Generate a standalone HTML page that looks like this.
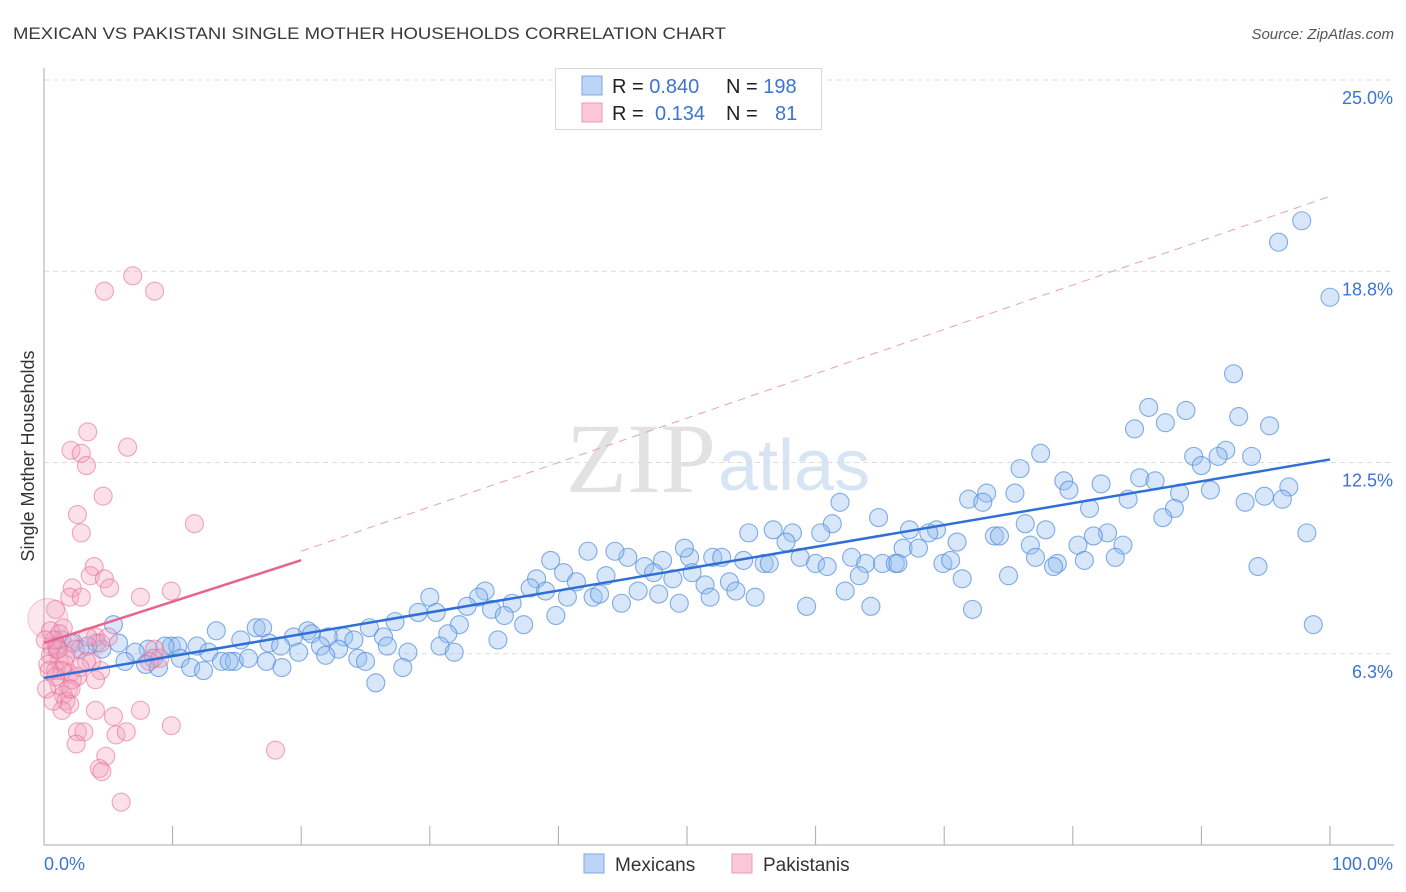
<!DOCTYPE html>
<html><head><meta charset="utf-8"><style>
body{margin:0;background:#fff;font-family:"Liberation Sans",sans-serif;}
#wrap{position:relative;width:1406px;height:892px;overflow:hidden;}
svg text{font-family:"Liberation Sans",sans-serif;}
</style></head><body>
<div id="wrap">
<svg id="svg" width="1406" height="892" xmlns="http://www.w3.org/2000/svg">
<text x="13" y="39" font-size="17" fill="#3a3a3a" textLength="713" lengthAdjust="spacingAndGlyphs">MEXICAN VS PAKISTANI SINGLE MOTHER HOUSEHOLDS CORRELATION CHART</text>
<text x="1394" y="39" font-size="15" fill="#555" font-style="italic" text-anchor="end">Source: ZipAtlas.com</text>
<text x="716" y="492" font-size="100" fill="#e2e2e2" text-anchor="end" style="font-family:'Liberation Serif',serif">ZIP</text>
<text x="718" y="490" font-size="72" fill="#d6e4f4">atlas</text>
<g id="grid"></g>
<g id="axes"></g>
<g id="pts"></g>
<g id="lines"></g>
<text x="0" y="0" font-size="18" fill="#333" text-anchor="middle" transform="translate(34,456) rotate(-90)">Single Mother Households</text>
<g>
<rect x="555.5" y="68.5" width="266" height="61" fill="#fff" stroke="#d8d8d8"/>
<rect x="582" y="76" width="20" height="19" fill="#bcd4f5" stroke="#7eaae6"/>
<rect x="582" y="103" width="20" height="19" fill="#f9c7d6" stroke="#ee9ab4"/>
<text x="612" y="93" font-size="20" fill="#222">R = <tspan fill="#3b74d1">0.840</tspan></text>
<text x="726" y="93" font-size="20" fill="#222">N = <tspan fill="#3b74d1">198</tspan></text>
<text x="612" y="120" font-size="20" fill="#222">R =  <tspan fill="#3b74d1" x="655">0.134</tspan></text>
<text x="726" y="120" font-size="20" fill="#222">N = <tspan fill="#3b74d1" x="775">81</tspan></text>
</g>
<g>
<rect x="584" y="854" width="20" height="19" fill="#bcd4f5" stroke="#7eaae6"/>
<text x="615" y="871" font-size="19" fill="#333">Mexicans</text>
<rect x="732" y="854" width="20" height="19" fill="#f9c7d6" stroke="#ee9ab4"/>
<text x="763" y="871" font-size="19" fill="#333">Pakistanis</text>
</g>
</svg>
</div>
<script>
const yTicks=[6.25,12.5,18.75,25];
const yTickLabels=["6.3%","12.5%","18.8%","25.0%"];
const xTickLabels=["0.0%","100.0%"];
const mexX=[97.8,96.0,100,92.5,85.9,88.8,92.9,84.8,87.2,95.3,77.5,89.4,91.9,93.9,75.9,90.0,91.3,79.3,85.2,86.4,82.2,79.7,90.7,88.3,71.9,73.3,75.5,73.0,84.3,94.9,96.8,93.4,96.3,61.9,81.3,87.9,87.0,64.9,61.3,76.3,77.9,82.7,81.6,69.4,67.3,68.8,56.7,58.2,54.8,57.7,60.4,73.9,74.3,98.2,76.7,80.4,83.9,71.0,66.8,68.0,52.0,52.7,54.4,50.2,49.8,48.1,45.4,44.4,42.3,39.4,58.8,60.0,62.8,63.9,65.2,66.2,66.4,69.9,70.5,56.0,56.4,60.9,77.1,80.9,83.3,78.8,78.5,94.4,46.7,47.4,50.4,48.9,43.7,38.3,40.4,41.4,71.4,75.0,63.4,53.3,51.4,37.8,34.3,39.0,46.2,47.8,53.8,51.8,55.3,62.3,42.7,43.2,44.9,49.4,40.7,33.8,30.0,36.4,32.9,34.8,39.8,59.3,64.3,72.2,29.1,30.5,35.8,37.3,27.3,32.3,25.3,98.7,5.4,13.4,16.5,17.0,20.5,31.4,26.4,23.3,24.1,35.3,15.3,19.4,20.8,22.1,1.4,2.3,4.1,5.8,9.9,10.4,8.1,9.4,11.9,17.5,18.4,21.5,22.9,26.7,30.8,31.9,28.3,4.5,7.1,8.5,10.6,12.8,19.8,21.9,24.4,25.0,6.3,7.9,8.9,11.4,12.4,13.8,14.8,14.4,15.9,17.3,18.5,27.9,25.8,2.8,3.4,1.0];
const mexY=[20.4,19.7,17.9,15.4,14.3,14.2,14.0,13.6,13.8,13.7,12.8,12.7,12.9,12.7,12.3,12.4,12.7,11.9,12.0,11.9,11.8,11.6,11.6,11.5,11.3,11.5,11.5,11.2,11.3,11.4,11.7,11.2,11.3,11.2,11.0,11.0,10.7,10.7,10.5,10.5,10.3,10.2,10.1,10.3,10.3,10.2,10.3,10.2,10.2,9.9,10.2,10.1,10.1,10.2,9.8,9.8,9.8,9.9,9.7,9.7,9.4,9.4,9.3,9.4,9.7,9.3,9.4,9.6,9.6,9.3,9.4,9.2,9.4,9.2,9.2,9.2,9.2,9.2,9.3,9.2,9.2,9.1,9.4,9.3,9.4,9.2,9.1,9.1,9.1,8.9,8.9,8.7,8.8,8.7,8.9,8.6,8.7,8.8,8.8,8.6,8.5,8.4,8.3,8.3,8.3,8.2,8.3,8.1,8.1,8.3,8.1,8.2,7.9,7.9,8.1,8.1,8.1,7.9,7.8,7.7,7.5,7.8,7.8,7.7,7.6,7.6,7.5,7.2,7.3,7.2,7.1,7.2,7.2,7.0,7.1,7.1,7.0,6.9,6.8,6.8,6.7,6.7,6.7,6.8,6.9,6.8,6.7,6.6,6.6,6.6,6.5,6.5,6.4,6.5,6.5,6.6,6.5,6.5,6.4,6.5,6.5,6.3,6.3,6.4,6.3,6.1,6.1,6.3,6.3,6.2,6.1,6.0,6.0,5.9,5.8,5.8,5.7,6.0,6.0,6.0,6.1,6.0,5.8,5.8,5.3,6.4,6.5,6.5];
const pakX=[6.9,4.7,8.6,3.4,6.5,2.1,2.9,3.3,4.6,2.6,11.7,2.9,3.9,3.6,4.7,5.1,2.2,9.9,2.0,2.9,7.5,0.9,0.3,0.5,1.5,4.0,8.6,4.4,4.0,4.0,5.4,7.5,9.9,18.0,6.0,1.2,2.0,0.6,1.0,0.5,1.2,0.3,0.9,1.6,2.4,3.7,3.3,2.0,2.6,1.2,1.9,1.5,1.7,2.0,1.4,2.6,3.1,2.5,5.6,6.4,4.8,4.3,4.5,9.0,8.2,1.1,0.8,1.7,2.8,1.4,2.2,0.9,4.4,5.0,0.1,0.4,0.2,0.7,2.1,3.4];
const pakY=[18.6,18.1,18.1,13.5,13.0,12.9,12.8,12.4,11.4,10.8,10.5,10.2,9.1,8.8,8.7,8.4,8.4,8.3,8.1,8.1,8.1,7.7,7.4,7.0,7.1,6.8,6.4,5.7,5.4,4.4,4.2,4.4,3.9,3.1,1.4,6.9,6.6,6.5,6.4,6.2,6.0,5.9,5.7,5.9,6.4,6.0,6.0,5.6,5.5,5.2,5.1,4.9,4.7,4.6,4.4,3.7,3.7,3.3,3.6,3.7,2.9,2.5,2.4,6.1,6.0,6.4,6.7,6.2,5.8,5.7,5.4,5.5,6.6,6.8,6.7,5.7,5.1,4.7,5.1,6.8];
const mexTrend=[5.46,12.6];
const pakTrend=[6.7,21.2];

const X0=44,X1=1330,Y0=845,Y25=80;
const sx=v=>X0+v/100*(X1-X0);
const sy=v=>Y0-v/25*(Y0-Y25);
const NS="http://www.w3.org/2000/svg";
function mk(tag,attrs,parent){const e=document.createElementNS(NS,tag);for(const k in attrs)e.setAttribute(k,attrs[k]);parent.appendChild(e);return e;}
const grid=document.getElementById('grid'),axes=document.getElementById('axes'),pts=document.getElementById('pts'),lines=document.getElementById('lines');
yTicks.forEach((t,i)=>{
 const g=mk('line',{x1:X0,x2:1394,y1:sy(t),y2:sy(t),stroke:'#dcdcdc','stroke-dasharray':'5,4'},grid);
 
 
 const tx=mk('text',{x:1393,y:sy(t)+24,'font-size':18,fill:'#3b74d1','text-anchor':'end'},axes);
 tx.textContent=yTickLabels[i];
 
 
});
const ya=mk('line',{x1:X0,x2:X0,y1:68,y2:Y0,stroke:'#aaa'},axes);


const xa=mk('line',{x1:X0,x2:1394,y1:Y0,y2:Y0,stroke:'#aaa'},axes);


for(let i=1;i<=10;i++){
 const t=mk('line',{x1:sx(i*10),x2:sx(i*10),y1:826,y2:Y0,stroke:'#aaa'},axes);
 
 
}
const xl0=mk('text',{x:44,y:870,'font-size':18,fill:'#3b74d1'},axes);xl0.textContent=xTickLabels[0];


const xl1=mk('text',{x:1393,y:870,'font-size':18,fill:'#3b74d1','text-anchor':'end'},axes);xl1.textContent=xTickLabels[1];


mexX.forEach((v,i)=>{
 const c=mk('circle',{cx:sx(v),cy:sy(mexY[i]),r:9,fill:'rgba(150,188,238,0.38)',stroke:'rgba(80,140,220,0.7)','stroke-width':1.1},pts);
 
 
});
pakX.forEach((v,i)=>{
 const big=i===22;
 const c=mk('circle',{cx:sx(v),cy:sy(pakY[i]),r:big?20:9,fill:big?'rgba(244,160,188,0.25)':'rgba(244,160,188,0.33)',stroke:big?'rgba(232,110,150,0.35)':'rgba(232,110,150,0.6)','stroke-width':1.1},pts);
 
 
});
const pd=mk('line',{x1:sx(20),y1:sy(pakTrend[0]+(pakTrend[1]-pakTrend[0])*0.2),x2:sx(100),y2:sy(pakTrend[1]),stroke:'#e9a0b6','stroke-width':1,'stroke-dasharray':'8,6'},lines);


const ps=mk('line',{x1:sx(0),y1:sy(pakTrend[0])+3,x2:sx(20),y2:sy(pakTrend[0]+(pakTrend[1]-pakTrend[0])*0.2)+9,stroke:'#e8648e','stroke-width':2.5},lines);


const ml=mk('line',{x1:sx(0),y1:sy(mexTrend[0]),x2:sx(100),y2:sy(mexTrend[1]),stroke:'#2f6fd6','stroke-width':2.5},lines);


</script>
</body></html>
